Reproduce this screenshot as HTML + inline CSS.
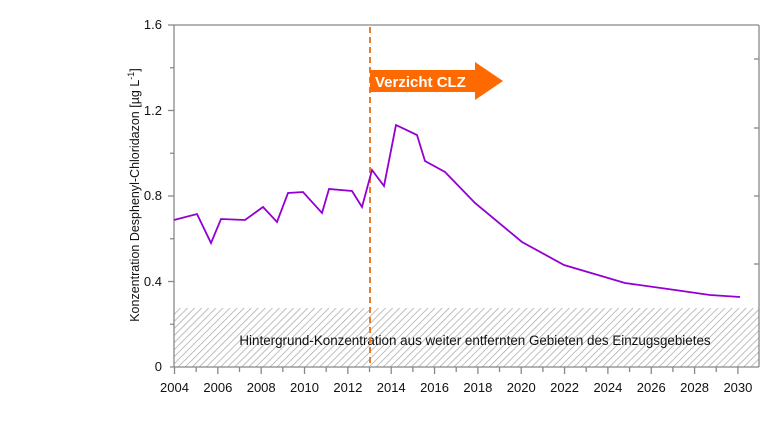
<!DOCTYPE html>
<html><head><style>body{margin:0;background:#fff}svg{display:block}text{font-family:"Liberation Sans",Arial,sans-serif}</style></head><body>
<svg width="760" height="440" viewBox="0 0 760 440" xmlns="http://www.w3.org/2000/svg">
<defs><pattern id="h" width="5" height="5" patternUnits="userSpaceOnUse" patternTransform="rotate(45)"><rect width="5" height="5" fill="#fff"/><line x1="0" y1="0" x2="0" y2="5" stroke="#aaa" stroke-width="1.5"/></pattern></defs>
<rect x="174" y="308" width="585" height="59" fill="url(#h)"/>
<text x="475" y="345" font-size="13.4" text-anchor="middle" fill="#111">Hintergrund-Konzentration aus weiter entfernten Gebieten des Einzugsgebietes</text>
<g stroke="#888" stroke-width="1.3" fill="none">
<line x1="174" y1="25" x2="759" y2="25"/><line x1="174" y1="25" x2="174" y2="367"/><line x1="759" y1="25" x2="759" y2="367"/><line x1="170" y1="367" x2="759" y2="367"/>
<line x1="168" y1="25" x2="174" y2="25"/><line x1="170" y1="67.75" x2="174" y2="67.75"/><line x1="168" y1="110.5" x2="174" y2="110.5"/><line x1="170" y1="153.25" x2="174" y2="153.25"/><line x1="168" y1="196" x2="174" y2="196"/><line x1="170" y1="238.75" x2="174" y2="238.75"/><line x1="168" y1="281.5" x2="174" y2="281.5"/><line x1="170" y1="324.25" x2="174" y2="324.25"/>
<line x1="754" y1="59" x2="759" y2="59"/><line x1="754" y1="128" x2="759" y2="128"/><line x1="754" y1="196" x2="759" y2="196"/><line x1="754" y1="264" x2="759" y2="264"/>
</g>
<g stroke="#888" stroke-width="1.3" id="xt"></g>
<g font-size="13" fill="#111" text-anchor="end">
<text x="162" y="29">1.6</text><text x="162" y="115">1.2</text><text x="162" y="200">0.8</text><text x="162" y="286">0.4</text><text x="162" y="371">0</text>
</g>
<g font-size="13" fill="#111" text-anchor="middle" id="xl"></g>
<text transform="translate(139,195) rotate(-90)" font-size="12.5" text-anchor="middle" fill="#111">Konzentration Desphenyl-Chloridazon [µg L<tspan dy="-5" font-size="9">-1</tspan><tspan dy="5">]</tspan></text>
<line x1="370" y1="27" x2="370" y2="367" stroke="#f07a28" stroke-width="2" stroke-dasharray="6,4"/>
<polygon points="370,70 475,70 475,62 503,81 475,100 475,92 370,92" fill="#ff6a00"/>
<text x="375" y="87" font-size="15" font-weight="bold" fill="#fff">Verzicht CLZ</text>
<polyline fill="none" stroke="#9400d3" stroke-width="1.8" points="174,220 197,214 211,243 221,219 245,220 263,207 277,222 288,193 303,192 322,213 329,189 352,191 362,207 372,170 384,186 396,125 417,135 425,161 445,172 475,203 522,242 564,265 625,283 675,290 710,295 740,297"/>
<script>
var t=document.getElementById('xt'),l=document.getElementById('xl'),ns='http://www.w3.org/2000/svg';
for(var y=2004;y<=2030;y++){var x=174.5+(y-2004)*21.67;var e=document.createElementNS(ns,'line');e.setAttribute('x1',x);e.setAttribute('x2',x);e.setAttribute('y1',367);e.setAttribute('y2',(y%2==0)?374:372);t.appendChild(e);
if(y%2==0){var s=document.createElementNS(ns,'text');s.setAttribute('x',x);s.setAttribute('y',392);s.textContent=y;l.appendChild(s);}}
</script>
</svg>
</body></html>
